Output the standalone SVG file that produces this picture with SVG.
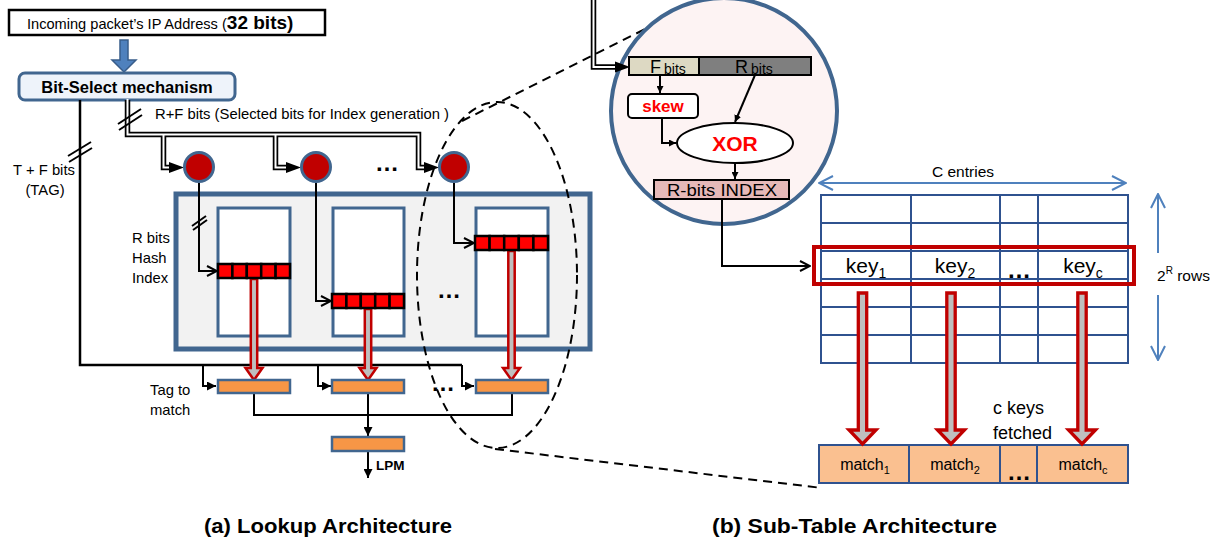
<svg xmlns="http://www.w3.org/2000/svg" width="1210" height="539" viewBox="0 0 1210 539">
  <style>
    text { font-family: "Liberation Sans", Arial, sans-serif; fill: #000; }
    .lbl { font-size: 14.8px; }
    .bold { font-weight: bold; }
    .red { fill: #ff0000; font-weight: bold; }
    .wire { fill: none; stroke: #000; stroke-width: 2; }
    .wire-thick { fill: none; stroke: #000; stroke-width: 2.5; }
    .bus-outer { fill: none; stroke: #000; stroke-width: 5.5; }
    .bus-inner { fill: none; stroke: #fff; stroke-width: 2; }
    .slash { stroke: #000; stroke-width: 2; }
    .dash { fill: none; stroke: #000; stroke-width: 2; stroke-dasharray: 9 6; }
    .panel { fill: #f2f2f2; stroke: #41668f; stroke-width: 5; }
    .bank { fill: #fff; stroke: #41668f; stroke-width: 3; }
    .cell { fill: #ff0000; stroke: #000; stroke-width: 2.5; }
    .hash { fill: #c00000; stroke: #41668f; stroke-width: 3; }
    .cmp { fill: #f79646; stroke: #41668f; stroke-width: 2.5; }
    .fetch { fill: #bfbfbf; stroke: #c00000; stroke-linejoin: miter; }
    .grid { fill: none; stroke: #2f528f; stroke-width: 2; }
    .dim { fill: none; stroke: #4f81bd; stroke-width: 2; }
    .cap { font-size: 20px; font-weight: bold; }
    .dots { font-size: 24px; font-weight: bold; }
  </style>
  <defs>
    <marker id="tri" viewBox="0 0 10 10" refX="10" refY="5" markerWidth="9" markerHeight="9" markerUnits="userSpaceOnUse" orient="auto">
      <path d="M0,0 L10,5 L0,10 z" fill="#000"/>
    </marker>
    <marker id="triS" viewBox="0 0 10 10" refX="10" refY="5" markerWidth="7" markerHeight="7" markerUnits="userSpaceOnUse" orient="auto">
      <path d="M0,0 L10,5 L0,10 z" fill="#000"/>
    </marker>
    <marker id="chev" viewBox="0 0 12 12" refX="11" refY="6" markerWidth="12" markerHeight="12" markerUnits="userSpaceOnUse" orient="auto">
      <path d="M1,1 L11,6 L1,11" fill="none" stroke="#000" stroke-width="2"/>
    </marker>
    <marker id="chevBlue" viewBox="0 0 16 16" refX="15" refY="8" markerWidth="16" markerHeight="16" markerUnits="userSpaceOnUse" orient="auto-start-reverse">
      <path d="M1,1 L15,8 L1,15" fill="none" stroke="#4f81bd" stroke-width="2"/>
    </marker>
  </defs>

  <!-- ===== (a) lookup architecture ===== -->
  <g id="ip-address">
    <rect x="9" y="10" width="316" height="25" fill="#fff" stroke="#000" stroke-width="2.5"/>
    <text x="27" y="29" font-size="14.6">Incoming packet’s IP Address (<tspan class="bold" font-size="19">32 bits)</tspan></text>
  </g>

  <g id="ip-to-select">
    <polygon points="120,40 128,40 128,60 136,60 124,72 112,60 120,60" fill="#4f81bd" stroke="#385d8a" stroke-width="1.5"/>
  </g>

  <g id="bit-select">
    <rect x="19" y="73" width="216" height="27" rx="6" fill="#eef3fa" stroke="#41668f" stroke-width="3"/>
    <text x="127" y="93" font-size="16.5" class="bold" text-anchor="middle">Bit-Select mechanism</text>
  </g>

  <g id="hash-panel">
    <rect class="panel" x="176" y="194" width="414" height="155"/>
  </g>

  <g id="bank-1">
    <rect class="bank" x="218" y="208" width="72" height="128"/>
  </g>
  <g id="bank-2">
    <rect class="bank" x="333" y="208" width="71" height="128"/>
  </g>
  <g id="bank-3">
    <rect class="bank" x="476" y="208" width="72" height="128"/>
  </g>

  <!-- connectors of the lookup side -->
  <g id="connectors-a">
    <!-- R+F bits bus (double line) -->
    <path class="bus-outer" d="M127.5,100 V134.5 H418.5 V167.5 H424 M163.5,134.5 V167.5 H169 M275.5,134.5 V167.5 H286"/>
    <path class="bus-inner" d="M127.5,99 V134.5 H418.5 V167.5 H424 M163.5,134.5 V167.5 H169 M275.5,134.5 V167.5 H286"/>
    <polygon points="169,162 184,167.5 169,173" fill="#000"/>
    <polygon points="286,162 301,167.5 286,173" fill="#000"/>
    <polygon points="424,162 439,167.5 424,173" fill="#000"/>
    <line class="slash" x1="118" y1="124" x2="141" y2="109"/>
    <line class="slash" x1="119" y1="130" x2="142" y2="115"/>

    <!-- tag line (T + F bits) -->
    <path class="wire-thick" d="M80,100 V365 H462"/>
    <line class="slash" x1="68" y1="156" x2="91" y2="142"/>
    <line class="slash" x1="69" y1="162" x2="92" y2="148"/>
    <path class="wire" d="M203,365 V386 H216" marker-end="url(#tri)"/>
    <path class="wire" d="M318,365 V386 H331" marker-end="url(#tri)"/>
    <path class="wire" d="M462,365 V386 H474" marker-end="url(#tri)"/>

    <!-- hash index lines into banks -->
    <path class="wire" d="M199,183 V271 H217" marker-end="url(#chev)"/>
    <line class="slash" x1="192" y1="226" x2="206" y2="216"/>
    <line class="slash" x1="193" y1="230" x2="207" y2="220"/>
    <path class="wire" d="M316,183 V301 H331" marker-end="url(#chev)"/>
    <path class="wire" d="M454,183 V243 H474" marker-end="url(#chev)"/>

    <!-- fetched entries -->
    <path class="fetch" stroke-width="2.5" d="M250.8,279 H257.2 V368 H262.5 L254,380 L245.5,368 H250.8 Z"/>
    <path class="fetch" stroke-width="2.5" d="M364.8,309 H371.2 V368 H376.5 L368,380 L359.5,368 H364.8 Z"/>
    <path class="fetch" stroke-width="2.5" d="M508.3,251 H514.7 V368 H520 L511.5,380 L503,368 H508.3 Z"/>

    <!-- comparator outputs -->
    <path class="wire" d="M254,393 V415 H512 V393"/>
    <path class="wire" d="M368,393 V436" marker-end="url(#tri)"/>
    <path class="wire" d="M368,451 V478" marker-end="url(#tri)"/>
  </g>

  <g id="hash-1">
    <circle class="hash" cx="199" cy="167" r="14.5"/>
  </g>
  <g id="hash-2">
    <circle class="hash" cx="316" cy="167" r="14.5"/>
  </g>
  <g id="hash-3">
    <circle class="hash" cx="454" cy="167" r="14.5"/>
  </g>

  <g id="index-1">
    <rect class="cell" x="218" y="264" width="14.4" height="14"/>
    <rect class="cell" x="232.4" y="264" width="14.4" height="14"/>
    <rect class="cell" x="246.8" y="264" width="14.4" height="14"/>
    <rect class="cell" x="261.2" y="264" width="14.4" height="14"/>
    <rect class="cell" x="275.6" y="264" width="14.4" height="14"/>
  </g>
  <g id="index-2">
    <rect class="cell" x="332" y="294" width="14.4" height="14"/>
    <rect class="cell" x="346.4" y="294" width="14.4" height="14"/>
    <rect class="cell" x="360.8" y="294" width="14.4" height="14"/>
    <rect class="cell" x="375.2" y="294" width="14.4" height="14"/>
    <rect class="cell" x="389.6" y="294" width="14.4" height="14"/>
  </g>
  <g id="index-3">
    <rect class="cell" x="475" y="236" width="14.6" height="14"/>
    <rect class="cell" x="489.6" y="236" width="14.6" height="14"/>
    <rect class="cell" x="504.2" y="236" width="14.6" height="14"/>
    <rect class="cell" x="518.8" y="236" width="14.6" height="14"/>
    <rect class="cell" x="533.4" y="236" width="14.6" height="14"/>
  </g>

  <g id="compare-1">
    <rect class="cmp" x="218" y="380" width="72" height="13"/>
  </g>
  <g id="compare-2">
    <rect class="cmp" x="332" y="380" width="72" height="13"/>
  </g>
  <g id="compare-3">
    <rect class="cmp" x="476" y="380" width="72" height="13"/>
  </g>
  <g id="lpm">
    <rect class="cmp" x="332" y="437" width="72" height="14"/>
    <text x="376" y="470" font-size="13.5" class="bold">LPM</text>
  </g>

  <g id="labels-a">
    <text class="lbl" x="155" y="119">R+F bits (Selected bits for Index generation )</text>
    <text class="lbl" x="44" y="175" text-anchor="middle">T + F bits</text>
    <text class="lbl" x="45" y="195" text-anchor="middle">(TAG)</text>
    <text class="lbl" x="132" y="243">R bits</text>
    <text class="lbl" x="132" y="263">Hash</text>
    <text class="lbl" x="132" y="283">Index</text>
    <text class="lbl" x="150" y="395">Tag to</text>
    <text class="lbl" x="150" y="415">match</text>
    <text class="dots" x="387" y="171" text-anchor="middle">…</text>
    <text class="dots" x="449" y="298" text-anchor="middle">…</text>
    <text class="dots" x="443" y="391" text-anchor="middle">…</text>
  </g>

  <!-- zoom call-out: ellipse around one sub-table and guide lines -->
  <g id="callout">
    <ellipse class="dash" cx="497" cy="275" rx="80" ry="173"/>
    <line class="dash" x1="462" y1="121" x2="697" y2="3"/>
    <line class="dash" x1="495" y1="449" x2="822" y2="488"/>
  </g>

  <!-- ===== (b) sub-table architecture ===== -->
  <g id="hash-detail">
    <circle cx="724" cy="111" r="113" fill="#fdf3f3" stroke="#41668f" stroke-width="4"/>
  </g>

  <g id="f-bits">
    <rect x="629" y="57" width="70" height="18" fill="#ddd9c3" stroke="#000" stroke-width="2"/>
    <text x="650" y="73" font-size="18">F<tspan font-size="14" dx="3" dy="1">bits</tspan></text>
  </g>
  <g id="r-bits">
    <rect x="699" y="57" width="112" height="18" fill="#7f7f7f" stroke="#000" stroke-width="2"/>
    <text x="735" y="73" font-size="18">R<tspan font-size="14" dx="3" dy="1">bits</tspan></text>
  </g>
  <g id="skew">
    <rect x="628" y="94" width="70" height="24" rx="4" fill="#fff" stroke="#000" stroke-width="2"/>
    <text x="663" y="112" font-size="17" class="red" text-anchor="middle">skew</text>
  </g>
  <g id="xor">
    <ellipse cx="735" cy="143" rx="58" ry="20" fill="#fff" stroke="#000" stroke-width="2"/>
    <text x="735" y="151" font-size="21" class="red" text-anchor="middle">XOR</text>
  </g>
  <g id="r-index">
    <rect x="654" y="180" width="135" height="19" fill="#e6b9b8" stroke="#000" stroke-width="2"/>
    <text x="722" y="196" font-size="16" text-anchor="middle" textLength="110" lengthAdjust="spacingAndGlyphs">R-bits INDEX</text>
  </g>

  <g id="sub-table">
    <rect class="grid" x="821" y="195" width="307" height="168"/>
    <path class="grid" d="M821,223 H1128 M821,251 H1128 M821,279 H1128 M821,307 H1128 M821,335 H1128 M911,195 V363 M1000,195 V363 M1038,195 V363"/>
    <rect x="814" y="247" width="320" height="37" fill="none" stroke="#c00000" stroke-width="4"/>
    <text x="866" y="273" font-size="21" text-anchor="middle">key<tspan font-size="14" dy="5">1</tspan></text>
    <text x="955" y="273" font-size="21" text-anchor="middle">key<tspan font-size="14" dy="5">2</tspan></text>
    <text class="dots" x="1019" y="278" text-anchor="middle">…</text>
    <text x="1083" y="273" font-size="21" text-anchor="middle">key<tspan font-size="14" dy="5">c</tspan></text>
  </g>

  <g id="match-row">
    <rect x="819" y="445" width="309" height="38" fill="#fac090" stroke="#2f528f" stroke-width="2"/>
    <path class="grid" d="M909,445 V483 M1000,445 V483 M1037,445 V483"/>
    <text x="865" y="470" font-size="16" text-anchor="middle">match<tspan font-size="11" dy="4">1</tspan></text>
    <text x="955" y="470" font-size="16" text-anchor="middle">match<tspan font-size="11" dy="4">2</tspan></text>
    <text class="dots" x="1019" y="480" text-anchor="middle">…</text>
    <text x="1083" y="470" font-size="16" text-anchor="middle">match<tspan font-size="11" dy="4">c</tspan></text>
  </g>

  <g id="labels-b">
    <text x="963" y="177" font-size="15.5" text-anchor="middle">C  entries</text>
    <text x="1157" y="281" font-size="15.5">2<tspan font-size="10" dy="-7">R</tspan><tspan dy="7"> rows</tspan></text>
    <text x="993" y="414" font-size="18">c keys</text>
    <text x="993" y="439" font-size="18">fetched</text>
  </g>

  <g id="connectors-b">
    <!-- incoming selected bits -->
    <path class="bus-outer" d="M593.5,0 V67 H615"/>
    <path class="bus-inner" d="M593.5,0 V67 H615"/>
    <polygon points="615,61.5 630,67 615,72.5" fill="#000"/>
    <!-- hash datapath -->
    <path class="wire" d="M660,75 V93" marker-end="url(#triS)"/>
    <path class="wire" d="M755,75 L735,122" marker-end="url(#triS)"/>
    <path class="wire" d="M662,118 V143 H676" marker-end="url(#triS)"/>
    <path class="wire" d="M735,163 V179" marker-end="url(#triS)"/>
    <path class="wire" d="M722,199 V266 H810" marker-end="url(#chev)"/>
    <!-- table dimensions -->
    <line class="dim" x1="819" y1="183" x2="1126" y2="183" marker-start="url(#chevBlue)" marker-end="url(#chevBlue)"/>
    <line class="dim" x1="1158" y1="253" x2="1158" y2="194" marker-end="url(#chevBlue)"/>
    <line class="dim" x1="1158" y1="295" x2="1158" y2="360" marker-end="url(#chevBlue)"/>
    <!-- fetched keys -->
    <path class="fetch" stroke-width="3.3" d="M858.3,293 H866.7 V430 H876 L862.5,444 L849,430 H858.3 Z"/>
    <path class="fetch" stroke-width="3.3" d="M946.8,293 H955.2 V430 H964.5 L951,444 L937.5,430 H946.8 Z"/>
    <path class="fetch" stroke-width="3.3" d="M1077.8,293 H1086.2 V430 H1095.5 L1082,444 L1068.5,430 H1077.8 Z"/>
  </g>

  <g id="captions">
    <text class="cap" x="204" y="533" textLength="248" lengthAdjust="spacingAndGlyphs">(a)  Lookup Architecture</text>
    <text class="cap" x="712" y="533" textLength="285" lengthAdjust="spacingAndGlyphs">(b) Sub-Table  Architecture</text>
  </g>
</svg>
